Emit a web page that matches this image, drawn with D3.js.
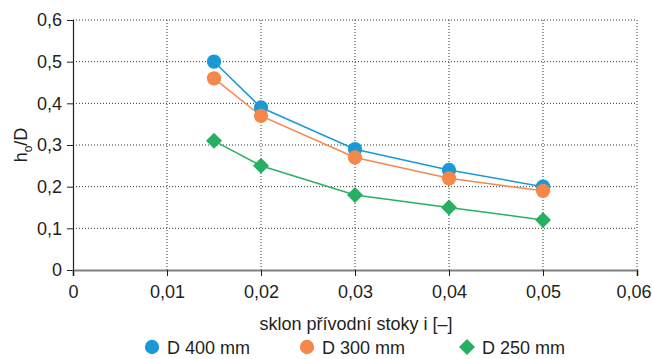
<!DOCTYPE html>
<html>
<head>
<meta charset="utf-8">
<script src="https://cdn.jsdelivr.net/npm/d3@7"></script>
<style>
  body { margin: 0; background: #fff; }
  text { font-family: "Liberation Sans Narrow", "Liberation Sans", Arial, sans-serif; fill: #231f20; }
</style>
</head>
<body>
<div id="chart"></div>
<script>
// sklon -> h0/D
const slopes = [0.015, 0.02, 0.03, 0.04, 0.05];
const d400 = [0.50, 0.39, 0.29, 0.24, 0.20];
const d300 = [0.46, 0.37, 0.27, 0.22, 0.19];
const d250 = [0.31, 0.25, 0.18, 0.15, 0.12];
const seriesNames = ["D 400 mm", "D 300 mm", "D 250 mm"];
const xTicks = [0, 0.01, 0.02, 0.03, 0.04, 0.05, 0.06];
const yTicks = [0, 0.1, 0.2, 0.3, 0.4, 0.5, 0.6];

let width = 652, height = 359;
let margin = { top: 20, left: 73, right: 15, bottom: 89 };

var svg = d3.select("#chart").append("svg")
    .attr("width", width)
    .attr("height", height);

var x = d3.scaleLinear().domain([0, 0.06]).range([margin.left, width - margin.right]);
var y = d3.scaleLinear().domain([0, 0.6]).range([height - margin.bottom, margin.top]);

const fmt = v => v === 0 ? "0" : d3.format(".2~f")(v).replace(".", ",");
const fmtY = v => v === 0 ? "0" : d3.format(".1f")(v).replace(".", ",");

// grid
svg.append("g").selectAll("line")
    .data(xTicks.slice(1))
    .enter().append("line")
    .attr("x1", d => x(d)).attr("x2", d => x(d))
    .attr("y1", y(0)).attr("y2", y(0.6))
    .attr("stroke", "#333").attr("stroke-width", 1).attr("stroke-dasharray", "1,2");

svg.append("g").selectAll("line")
    .data(yTicks.slice(1))
    .enter().append("line")
    .attr("x1", x(0)).attr("x2", x(0.06))
    .attr("y1", d => y(d)).attr("y2", d => y(d))
    .attr("stroke", "#333").attr("stroke-width", 1).attr("stroke-dasharray", "1,2");

// y axis
var yAxis = svg.append("g")
    .attr("transform", "translate(" + x(0) + ",0)")
    .call(d3.axisLeft(y).tickValues(yTicks).tickFormat(fmtY).tickSize(6).tickPadding(5));
yAxis.select(".domain").attr("stroke", "#231f20").attr("stroke-width", 1.2);
yAxis.selectAll(".tick line").attr("stroke", "#231f20");
yAxis.selectAll("text").style("font-size", "18px").style("font-family", null);

// x axis
var xAxis = svg.append("g")
    .attr("transform", "translate(0," + y(0) + ")")
    .call(d3.axisBottom(x).tickValues(xTicks).tickFormat(fmt).tickSize(6).tickPadding(9));
xAxis.select(".domain").attr("stroke", "#808080").attr("stroke-width", 2);
xAxis.selectAll(".tick line").attr("stroke", "#231f20");
xAxis.selectAll("text").style("font-size", "18px").style("font-family", null);
// last label is pushed in so it stays on the page
xAxis.selectAll(".tick text").filter(d => d === 0.06)
    .attr("text-anchor", "end").attr("x", width - 1 - x(0.06));

// axis titles
svg.append("text")
    .attr("x", 356)
    .attr("y", 330)
    .attr("text-anchor", "middle")
    .style("font-size", "18px")
    .text("sklon přívodní stoky i [–]");

var yl = svg.append("text")
    .attr("transform", "translate(27," + y(0.3) + ") rotate(-90)")
    .attr("text-anchor", "middle")
    .style("font-size", "18px");
yl.append("tspan").text("h");
yl.append("tspan").attr("dy", 5).style("font-size", "12px").text("o");
yl.append("tspan").attr("dy", -5).text("/D");

const colors = ["#199ad7", "#f5874a", "#28b062"];
const allSeries = [d400, d300, d250];

var line = d3.line()
    .x((d, i) => x(slopes[i]))
    .y(d => y(d));

allSeries.forEach(function(vals, k) {
    svg.append("path")
        .datum(vals)
        .attr("d", line)
        .attr("fill", "none")
        .attr("stroke", colors[k])
        .attr("stroke-width", 1.5);
});

var circle = d3.symbol().type(d3.symbolCircle).size(160);
var diamond = d3.symbol().type(d3.symbolSquare).size(128);

allSeries.forEach(function(vals, k) {
    svg.append("g").selectAll("path")
        .data(vals)
        .enter().append("path")
        .attr("d", k < 2 ? circle : diamond)
        .attr("transform", (d, i) => "translate(" + x(slopes[i]) + "," + y(d) + ")" + (k < 2 ? "" : " rotate(45)"))
        .attr("fill", colors[k]);
});

// legend
const legX = [152, 307, 467];
seriesNames.forEach(function(name, k) {
    var g = svg.append("g").attr("transform", "translate(" + legX[k] + ",347)");
    g.append("path")
        .attr("d", k < 2 ? circle : diamond)
        .attr("transform", k < 2 ? "" : "rotate(45)")
        .attr("fill", colors[k]);
    g.append("text")
        .attr("x", 15)
        .attr("y", 7)
        .style("font-size", "18px")
        .text(name);
});
</script>
</body>
</html>
